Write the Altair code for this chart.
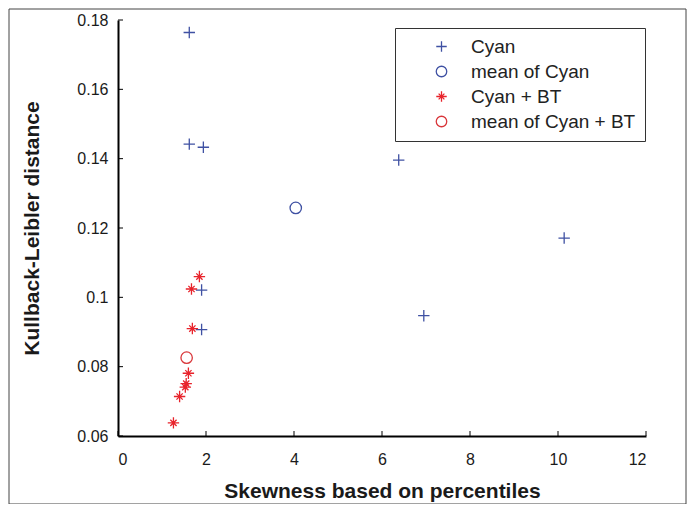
import altair as alt
import pandas as pd

# ---- data ----
cyan_x = [1.62, 1.62, 1.94, 6.38, 10.14, 1.90, 6.95, 1.90]
cyan_y = [0.1764, 0.1442, 0.1433, 0.1396, 0.1171, 0.1021, 0.0947, 0.0907]
bt_x = [1.85, 1.67, 1.69, 1.60, 1.55, 1.53, 1.40, 1.26]
bt_y = [0.1060, 0.1024, 0.0910, 0.0781, 0.0751, 0.0741, 0.0714, 0.0638]
mean_cyan_x = [4.04]
mean_cyan_y = [0.1258]
mean_bt_x = [1.56]
mean_bt_y = [0.0826]
series_names = ["Cyan", "mean of Cyan", "Cyan + BT", "mean of Cyan + BT"]
x_ticks = [0, 2, 4, 6, 8, 10, 12]
y_ticks = [0.06, 0.08, 0.10, 0.12, 0.14, 0.16, 0.18]

rows = []
for xs_, ys_, name in [(cyan_x, cyan_y, series_names[0]),
                       (mean_cyan_x, mean_cyan_y, series_names[1]),
                       (bt_x, bt_y, series_names[2]),
                       (mean_bt_x, mean_bt_y, series_names[3])]:
    for a, b in zip(xs_, ys_):
        rows.append({"x": a, "y": b, "series": name})
df = pd.DataFrame(rows)

plus = "M-1,0H1M0,-1V1"
star = "M-1,0H1M0,-1V1M-0.55,-0.55L0.55,0.55M-0.55,0.55L0.55,-0.55"
colors = ["#3f51a3", "#3f51a3", "#e8232b", "#d9363a"]
shapes = [plus, "circle", star, "circle"]
widths = [1.3, 1.3, 2.0, 1.4]

xaxis = alt.Axis(values=x_ticks, format="d", title="Skewness based on percentiles",
                 titlePadding=13, labelPadding=15)
yaxis = alt.Axis(values=y_ticks, format=".2~f", title="Kullback-Leibler distance",
                 titlePadding=34, labelPadding=10)
xs = alt.Scale(domain=[0, 12], nice=False, zero=False)
ys = alt.Scale(domain=[0.06, 0.18], nice=False, zero=False)

points = alt.Chart(df).mark_point(filled=False, size=130, opacity=1).encode(
    x=alt.X("x:Q", scale=xs, axis=xaxis),
    y=alt.Y("y:Q", scale=ys, axis=yaxis),
    color=alt.Color("series:N", scale=alt.Scale(domain=series_names, range=colors),
                    legend=alt.Legend(title=None)),
    shape=alt.Shape("series:N", scale=alt.Scale(domain=series_names, range=shapes),
                    legend=alt.Legend(title=None)),
    strokeWidth=alt.StrokeWidth("series:N", scale=alt.Scale(domain=series_names, range=widths),
                                legend=alt.Legend(title=None)),
)

xt = alt.Chart(pd.DataFrame({"x": x_ticks})).mark_rule(color="black", strokeWidth=1).encode(
    x=alt.X("x:Q", scale=xs, axis=xaxis),
    y=alt.value(416), y2=alt.value(411),
)
yt = alt.Chart(pd.DataFrame({"y": y_ticks})).mark_rule(color="black", strokeWidth=1).encode(
    y=alt.Y("y:Q", scale=ys, axis=yaxis),
    x=alt.value(0), x2=alt.value(5),
)
frame = alt.Chart(pd.DataFrame({"a": [0]})).mark_rect(
    fillOpacity=0, stroke="#444", strokeWidth=1).encode(
    x=alt.value(-109), x2=alt.value(568), y=alt.value(-11), y2=alt.value(484),
)

chart = alt.layer(frame, xt, yt, points).properties(
    width=528, height=416,
    autosize=alt.AutoSizeParams(type="none"),
    padding={"left": 110, "top": 12, "right": 41, "bottom": 68},
).configure_view(stroke=None).configure_axis(
    grid=False, ticks=False, domainColor="black", domainWidth=2,
    labelFont="Liberation Sans Narrow, Liberation Sans, Arial", labelFontSize=16,
    labelColor="#1a1a1a",
    titleFont="Liberation Sans, Arial", titleFontSize=21, titleFontWeight="bold",
    titleColor="#1a1a1a",
).configure_legend(
    orient="none", legendX=277, legendY=8,
    strokeColor="#333", fillColor="white", padding=9,
    labelFont="Liberation Sans, Arial", labelFontSize=19, labelColor="#222",
    labelLimit=300,
    symbolOffset=28, labelOffset=20, rowPadding=5, symbolSize=110,
    symbolStrokeWidth=1.4,
)

chart.save("out.html", embed_options={"renderer": "svg", "actions": False})
